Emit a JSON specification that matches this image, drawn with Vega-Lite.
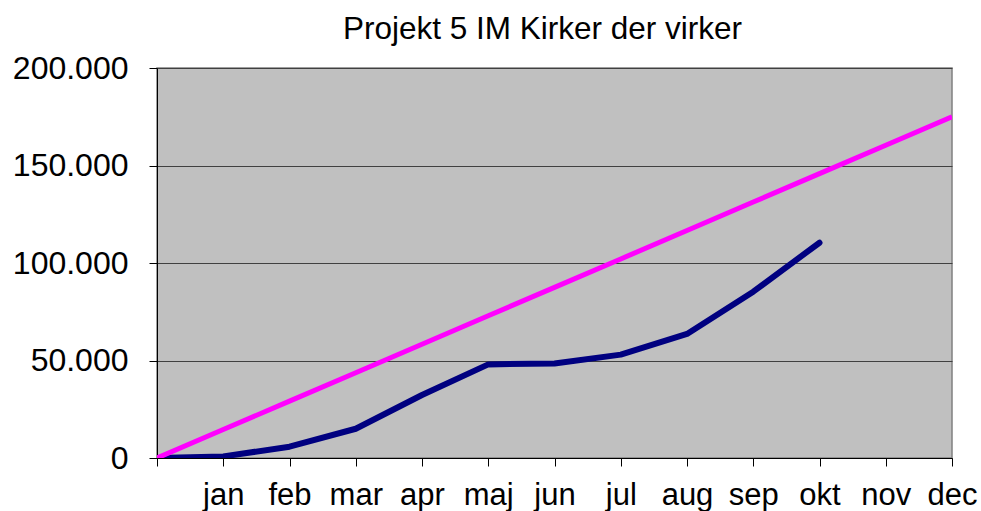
{
  "$schema": "https://vega.github.io/schema/vega-lite/v6.json",
  "autosize": "none",
  "width": 795,
  "height": 390,
  "padding": {"left": 157, "top": 68, "right": 29, "bottom": 53},
  "background": "white",
  "config": {
    "font": "Liberation Sans",
    "view": {"fill": "#C0C0C0", "stroke": "#808080", "strokeWidth": 1.5}
  },
  "title": {
    "text": "Projekt 5 IM Kirker der virker",
    "fontSize": 31.5,
    "fontWeight": "normal",
    "color": "black",
    "font": "Liberation Sans",
    "anchor": "middle",
    "baseline": "bottom",
    "offset": -25,
    "dx": -12
  },
  "data": {
    "values": [
      {"m": 0, "series": "Faktisk", "value": 0},
      {"m": 1, "series": "Faktisk", "value": 800},
      {"m": 2, "series": "Faktisk", "value": 5800},
      {"m": 3, "series": "Faktisk", "value": 15000},
      {"m": 4, "series": "Faktisk", "value": 32300},
      {"m": 5, "series": "Faktisk", "value": 48000},
      {"m": 6, "series": "Faktisk", "value": 48500},
      {"m": 7, "series": "Faktisk", "value": 53000},
      {"m": 8, "series": "Faktisk", "value": 63600},
      {"m": 9, "series": "Faktisk", "value": 85300},
      {"m": 10, "series": "Faktisk", "value": 110400},
      {"m": 0, "series": "Budget", "value": 0},
      {"m": 1, "series": "Budget", "value": 14583},
      {"m": 2, "series": "Budget", "value": 29167},
      {"m": 3, "series": "Budget", "value": 43750},
      {"m": 4, "series": "Budget", "value": 58333},
      {"m": 5, "series": "Budget", "value": 72917},
      {"m": 6, "series": "Budget", "value": 87500},
      {"m": 7, "series": "Budget", "value": 102083},
      {"m": 8, "series": "Budget", "value": 116667},
      {"m": 9, "series": "Budget", "value": 131250},
      {"m": 10, "series": "Budget", "value": 145833},
      {"m": 11, "series": "Budget", "value": 160417},
      {"m": 12, "series": "Budget", "value": 175000}
    ]
  },
  "encoding": {
    "x": {
      "field": "m",
      "type": "quantitative",
      "scale": {"domain": [0, 12], "nice": false, "zero": false},
      "axis": {
        "title": null,
        "values": [0, 1, 2, 3, 4, 5, 6, 7, 8, 9, 10, 11, 12],
        "labelExpr": "['', 'jan', 'feb', 'mar', 'apr', 'maj', 'jun', 'jul', 'aug', 'sep', 'okt', 'nov', 'dec'][datum.value]",
        "grid": false,
        "domainColor": "black",
        "domainWidth": 1,
        "tickColor": "black",
        "tickSize": 8,
        "labelFontSize": 31,
        "labelFont": "Liberation Sans",
        "labelColor": "black",
        "labelPadding": 14,
        "labelFlush": false,
        "labelOverlap": false,
        "labelBound": false
      }
    },
    "y": {
      "field": "value",
      "type": "quantitative",
      "scale": {"domain": [0, 200000], "nice": false},
      "axis": {
        "title": null,
        "values": [0, 50000, 100000, 150000, 200000],
        "labelExpr": "datum.value == 0 ? '0' : format(datum.value / 1000, 'd') + '.000'",
        "grid": true,
        "gridColor": "#404040",
        "gridWidth": 1,
        "gridOpacity": 1,
        "domainColor": "black",
        "domainWidth": 1,
        "tickColor": "black",
        "tickSize": 8,
        "labelFontSize": 32,
        "labelFont": "Liberation Sans",
        "labelColor": "black",
        "labelPadding": 21,
        "labelFlush": false,
        "labelOverlap": false,
        "labelBound": false
      }
    }
  },
  "layer": [
    {
      "transform": [{"filter": "datum.series == 'Faktisk'"}],
      "mark": {"type": "line", "color": "#000080", "strokeWidth": 6, "strokeCap": "round", "strokeJoin": "round", "clip": true}
    },
    {
      "transform": [{"filter": "datum.series == 'Budget'"}],
      "mark": {"type": "line", "color": "#FF00FF", "strokeWidth": 5, "clip": true}
    }
  ]
}
